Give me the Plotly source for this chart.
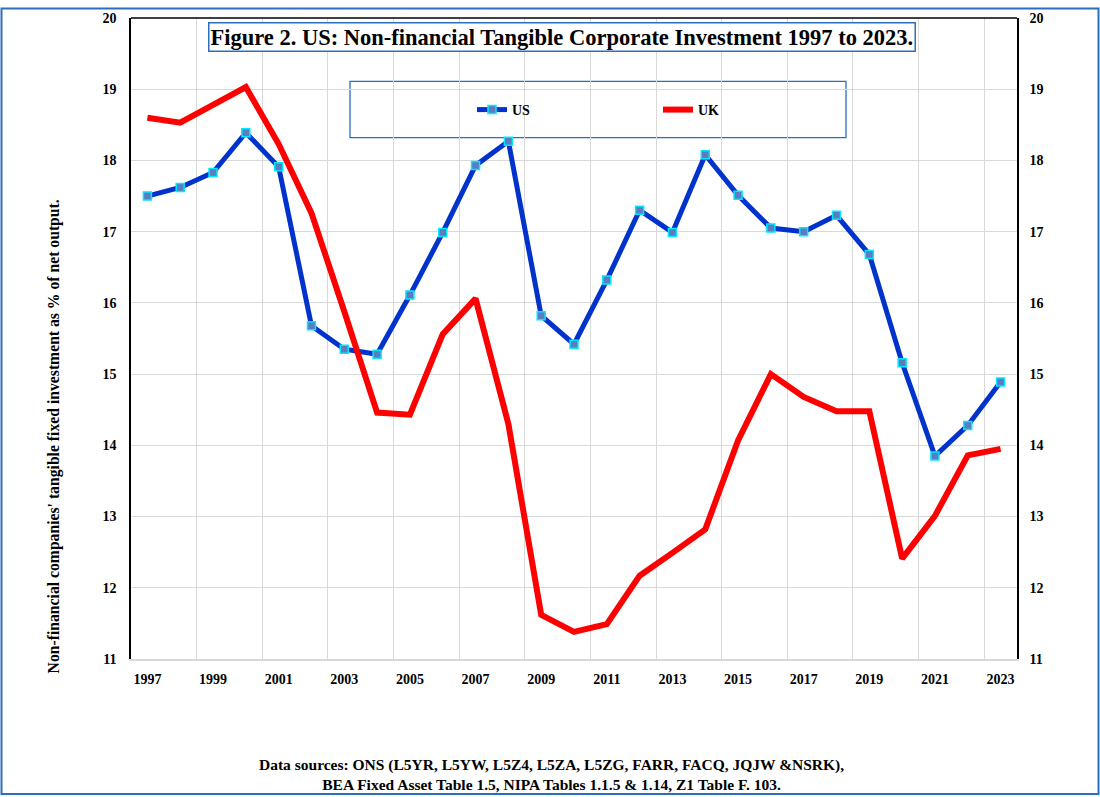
import plotly.graph_objects as go

# values (% of net output)
years = list(range(1997, 2024))
us = [17.50, 17.62, 17.83, 18.39, 17.91, 15.68, 15.35, 15.28, 16.11, 16.99,
      17.93, 18.27, 15.82, 15.42, 16.32, 17.30, 16.99, 18.08, 17.51, 17.05,
      17.00, 17.23, 16.68, 15.16, 13.85, 14.28, 14.89]
uk = [18.60, 18.53, 18.78, 19.03, 18.23, 17.26, 15.88, 14.46, 14.43, 15.56,
      16.06, 14.30, 11.62, 11.38, 11.49, 12.17, 12.49, 12.82, 14.07, 15.00,
      14.68, 14.48, 14.48, 12.41, 13.01, 13.86, 13.95]
tick_years = years[::2]

title_text = "Figure 2. US: Non-financial Tangible Corporate Investment 1997 to 2023."
ytitle_text = "Non-financial companies' tangible fixed investment as % of net output."
source_text = ("Data sources: ONS (L5YR, L5YW, L5Z4, L5ZA, L5ZG, FARR, FACQ, JQJW &NSRK),<br>"
               "BEA Fixed Asset Table 1.5, NIPA Tables 1.1.5 & 1.14, Z1 Table F. 103.")

W, H = 1100, 797
ML, MR, MT, MB = 131, 83, 11, 138
PW, PH = W - ML - MR, H - MT - MB

def px(x):
  return (x - ML) / PW

def py(y):
  return (H - MB - y) / PH

serif = "Liberation Serif"
blue_border = "#2a6fbf"
grid = "#d9d9d9"

fig = go.Figure()
fig.add_trace(go.Scatter(
    x=years, y=us, name="US", mode="lines+markers",
    line=dict(color="#0033cc", width=5),
    marker=dict(symbol="square", size=8, color="#5b7cbf",
                line=dict(color="#00e8ff", width=1.5))
  ))
fig.add_trace(go.Scatter(
    x=years, y=uk, name="UK", mode="lines", yaxis="y2",
    line=dict(color="#ff0000", width=6)
  ))

tickfont = dict(family=serif, size=14, color="black", weight="bold")

fig.update_layout(
    width=W, height=H,
    margin=dict(l=ML, r=MR, t=MT, b=MB, pad=0),
    paper_bgcolor="white", plot_bgcolor="white",
    xaxis=dict(
      range=[1996.5, 2023.5], tickvals=tick_years, showgrid=False,
      showline=True, linecolor=grid, linewidth=1.5,
      ticks="outside", ticklen=6, tickcolor="rgba(0,0,0,0)",
      tickfont=tickfont, zeroline=False,
      minor=dict(tick0=1998.5, dtick=2, showgrid=True, gridcolor=grid, gridwidth=1.3)
    ),
    yaxis=dict(
      range=[11, 20], dtick=1, showgrid=True, gridcolor=grid, gridwidth=1.3,
      showline=True, linecolor="black", linewidth=1.5,
      ticks="outside", ticklen=10, tickcolor="rgba(0,0,0,0)",
      tickfont=tickfont, zeroline=False
    ),
    yaxis2=dict(
      range=[11, 20], dtick=1, overlaying="y", side="right", showgrid=False,
      showline=True, linecolor="black", linewidth=1.5,
      ticks="outside", ticklen=8, tickcolor="rgba(0,0,0,0)",
      tickfont=tickfont, zeroline=False
    ),
    showlegend=True,
    legend=dict(
      orientation="h", x=px(472), y=py(104), xanchor="left", yanchor="middle",
      bgcolor="rgba(0,0,0,0)", borderwidth=0,
      font=dict(family=serif, size=14, color="black", weight="bold"),
      entrywidth=141, entrywidthmode="pixels"
    ),
    shapes=[
      # top border of the plot area
      dict(type="line", xref="paper", yref="paper", x0=0, x1=1, y0=1, y1=1,
           line=dict(color="black", width=1.5)),
      # legend box
      dict(type="rect", xref="paper", yref="paper", layer="between",
           x0=px(350), x1=px(846), y0=py(132), y1=py(75),
           fillcolor="white", line=dict(color=blue_border, width=1.3)),
      # outer frame
      dict(type="rect", xref="paper", yref="paper",
           x0=px(1.5), x1=px(W - 1.5), y0=py(H - 1.5), y1=py(1.5),
           line=dict(color=blue_border, width=2)),
    ],
    annotations=[
      dict(text=title_text, xref="paper", yref="paper", x=px(561.5), y=py(30),
           xanchor="center", yanchor="middle", showarrow=False,
           font=dict(family=serif, size=22.5, color="black", weight="bold"),
           bgcolor="white", bordercolor=blue_border, borderwidth=1.5, borderpad=1),
      dict(text=ytitle_text, xref="paper", yref="paper", x=px(54), y=py(434),
           xanchor="center", yanchor="middle", showarrow=False, textangle=-90,
           font=dict(family=serif, size=15.7, color="black", weight="bold")),
      dict(text=source_text, xref="paper", yref="paper", x=px(551), y=py(776),
           xanchor="center", yanchor="middle", showarrow=False,
           font=dict(family=serif, size=15.5, color="black", weight="bold")),
    ]
  )

# the page should start at the top-left corner, without the default body margin
fig.write_html("out.html", config={"displayModeBar": False},
               post_script="document.body.style.margin='0';")
